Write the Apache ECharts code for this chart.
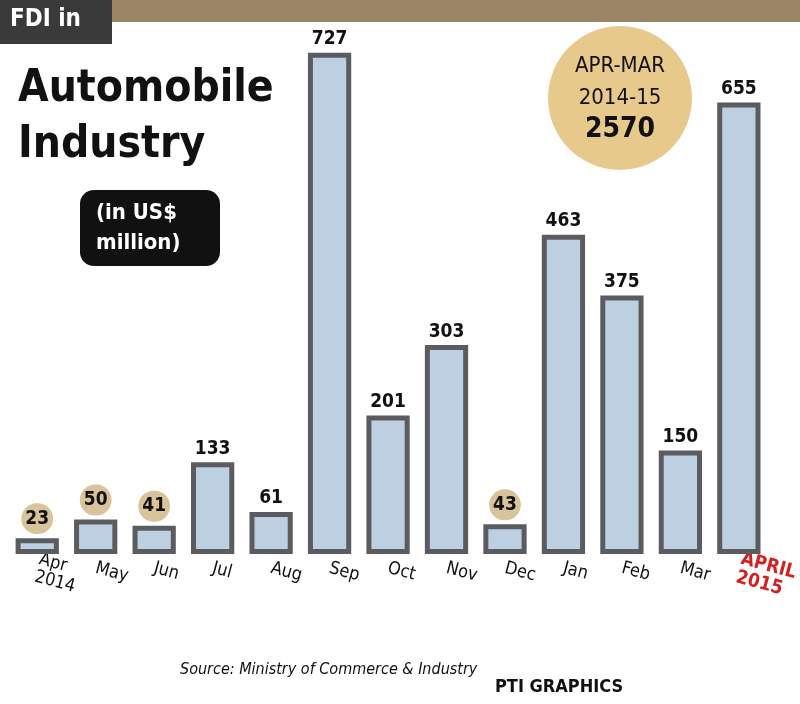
<!DOCTYPE html>
<html><head><meta charset="utf-8">
<script src="https://cdn.jsdelivr.net/npm/echarts@6/dist/echarts.min.js"></script>
<style>html,body{margin:0;padding:0;background:#fff}#c{width:800px;height:704px}</style>
</head><body><div id="c"></div>
<script>
const categories = ['Apr\n2014','May','Jun','Jul','Aug','Sep','Oct','Nov','Dec','Jan','Feb','Mar','APRIL\n2015'];
const fdiValues = [23,50,41,133,61,727,201,303,43,463,375,150,655];
const highlighted = [0,1,2,8];
const F = '"DejaVu Sans Condensed", "DejaVu Sans", sans-serif';
const chart = echarts.init(document.getElementById('c'));
chart.setOption({
  backgroundColor:'#ffffff',
  grid:{left:8,right:8,top:30,bottom:150},
  xAxis:{type:'category',data:categories,axisLine:{show:false},axisTick:{show:false},
    axisLabel:{interval:0,rotate:-15,margin:14,fontFamily:F,fontSize:18,color:'#111',
      formatter:(v,i)=> i===12 ? '{r|'+v+'}' : v,
      rich:{r:{color:'#d42020',fontWeight:'bold',fontSize:19,fontFamily:F}}}},
  yAxis:{type:'value',min:0,max:760,show:false},
  series:[{type:'bar',data:fdiValues.map((v,i)=>({value:v,
      label:highlighted.includes(i)?{backgroundColor:'#d8c39a',borderRadius:20,padding:[6,4]}:{}})),
    barWidth:'74%',
    itemStyle:{color:'#bcd0e2',borderColor:'#5a5c60',borderWidth:5},
    label:{show:true,position:'top',distance:4,fontSize:19,fontWeight:'bold',color:'#111',fontFamily:F}}],
  graphic:[
    {type:'rect',shape:{x:0,y:0,width:800,height:22},style:{fill:'#9a8466'},z:-1},
    {type:'rect',shape:{x:0,y:0,width:112,height:44},style:{fill:'#3a3a3a'}},
    {type:'text',left:10,top:8,style:{text:'FDI in',fill:'#fff',font:'bold 24px '+F}},
    {type:'text',left:18,top:62,style:{text:'Automobile\nIndustry',fill:'#111',font:'bold 44px '+F,lineHeight:56}},
    {type:'rect',shape:{x:80,y:190,width:140,height:76,r:14},style:{fill:'#111'}},
    {type:'text',left:96,top:198,style:{text:'(in US$\nmillion)',fill:'#fff',font:'bold 22px '+F,lineHeight:30}},
    {type:'circle',shape:{cx:620,cy:98,r:72},style:{fill:'#e8c98c'}},
    {type:'text',x:620,y:98,style:{text:'APR-MAR\n2014-15\n{b|2570}',fill:'#111',font:'22px '+F,lineHeight:32,align:'center',verticalAlign:'middle',
      rich:{b:{font:'bold 28px '+F}}}},
    {type:'text',left:180,top:662,style:{text:'Source: Ministry of Commerce & Industry',fill:'#111',font:'italic 16px '+F}},
    {type:'text',left:495,top:678,style:{text:'PTI GRAPHICS',fill:'#111',font:'bold 18px '+F}}
  ]
});
</script></body></html>
